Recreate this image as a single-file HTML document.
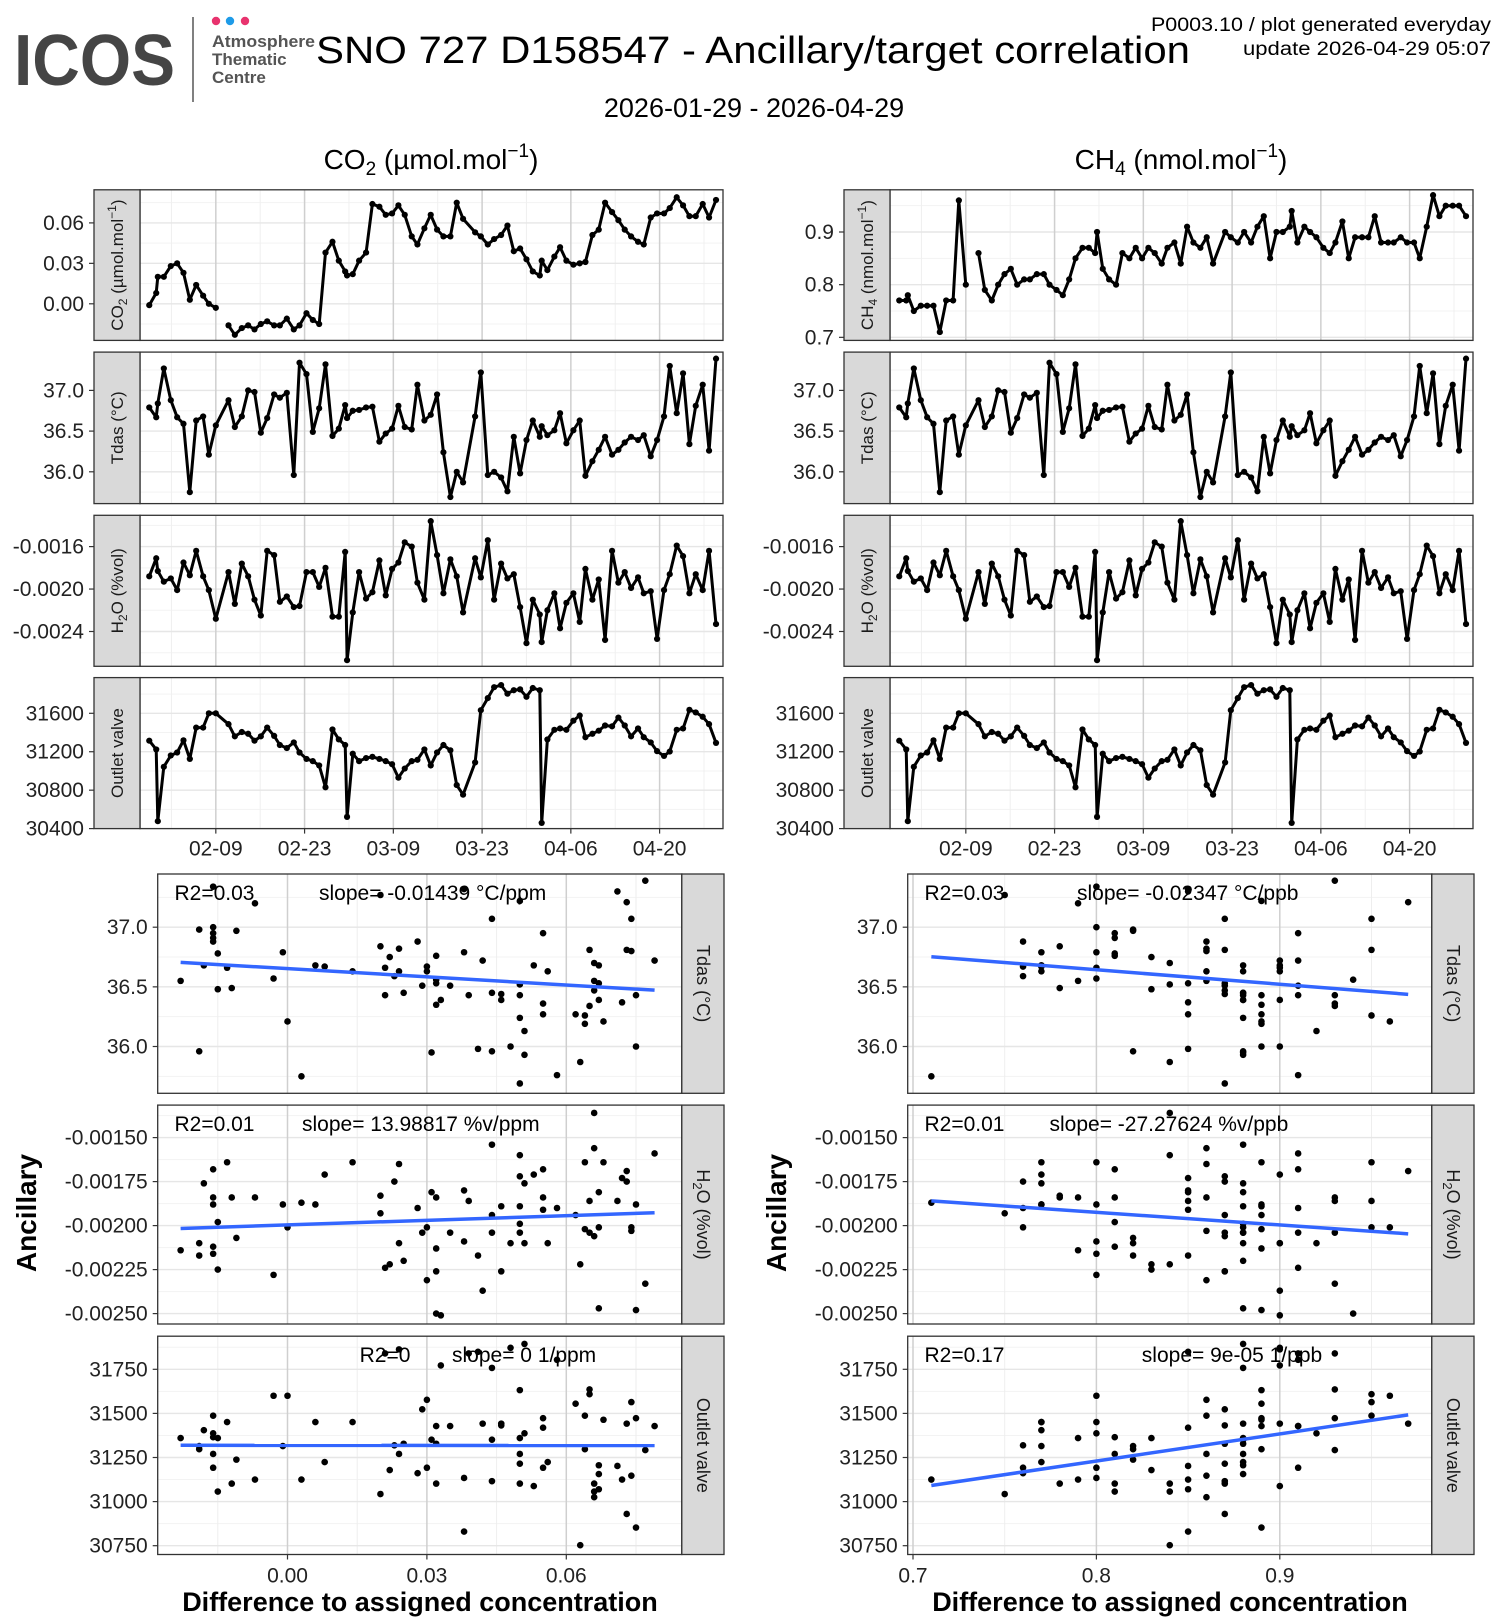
<!DOCTYPE html>
<html><head><meta charset="utf-8"><style>
html,body{margin:0;padding:0;background:#fff}
svg{display:block;font-family:"Liberation Sans",sans-serif}
</style></head><body>
<svg id="chart" width="1500" height="1620" viewBox="0 0 1500 1620" xmlns="http://www.w3.org/2000/svg">
<defs id="defs"></defs>
<g>
<text x="14" y="85" font-size="72" font-weight="bold" fill="#454545" textLength="161" lengthAdjust="spacingAndGlyphs">ICOS</text>
<line x1="193" y1="17" x2="193" y2="102" stroke="#555" stroke-width="1.5"/>
<circle cx="216" cy="21" r="4.2" fill="#e8336e"/>
<circle cx="230" cy="21" r="4.2" fill="#1e9be8"/>
<circle cx="245" cy="21" r="4.2" fill="#e8336e"/>
<text x="212" y="47" font-size="17" font-weight="bold" fill="#555" textLength="103" lengthAdjust="spacingAndGlyphs">Atmosphere</text>
<text x="212" y="65" font-size="17" font-weight="bold" fill="#555">Thematic</text>
<text x="212" y="83" font-size="17" font-weight="bold" fill="#555">Centre</text>
<text x="316" y="63" font-size="38" fill="#000" textLength="874" lengthAdjust="spacingAndGlyphs">SNO 727 D158547 - Ancillary/target correlation</text>
<text x="754" y="117" font-size="27" fill="#000" text-anchor="middle">2026-01-29 - 2026-04-29</text>
<text x="1491" y="31" font-size="19" fill="#000" text-anchor="end" textLength="340" lengthAdjust="spacingAndGlyphs">P0003.10 / plot generated everyday</text>
<text x="1491" y="55" font-size="19" fill="#000" text-anchor="end" textLength="248" lengthAdjust="spacingAndGlyphs">update  2026-04-29 05:07</text>
<text x="431" y="169" font-size="28" fill="#000" text-anchor="middle">CO<tspan font-size="19" dy="6">2</tspan><tspan dy="-6"> (µmol.mol</tspan><tspan font-size="19" dy="-12">−1</tspan><tspan dy="12">)</tspan></text>
<text x="1181" y="169" font-size="28" fill="#000" text-anchor="middle">CH<tspan font-size="19" dy="6">4</tspan><tspan dy="-6"> (nmol.mol</tspan><tspan font-size="19" dy="-12">−1</tspan><tspan dy="12">)</tspan></text>
<text transform="translate(36,1213) rotate(-90)" font-size="28" font-weight="bold" text-anchor="middle">Ancillary</text>
<text transform="translate(786,1213) rotate(-90)" font-size="28" font-weight="bold" text-anchor="middle">Ancillary</text>
<text x="420" y="1611" font-size="27" font-weight="bold" text-anchor="middle">Difference to assigned concentration</text>
<text x="1170" y="1611" font-size="27" font-weight="bold" text-anchor="middle">Difference to assigned concentration</text>
</g>
</svg>
<script>
const days = [0.5,1.6,1.85,2.8,3.9,4.9,5.9,6.9,7.9,9.0,9.9,11.0,12.0,13.0,14.0,15.1,16.1,17.1,18.1,19.1,20.2,21.1,22.2,23.3,24.2,25.3,26.3,27.3,28.3,29.4,30.4,31.4,31.7,32.6,33.6,34.7,35.7,36.8,37.8,38.8,39.8,40.8,41.9,42.8,43.9,44.9,45.9,46.9,48.0,49.0,50.0,51.9,52.8,53.9,54.9,56.0,57.0,58.0,59.0,60.0,61.0,62.1,62.4,63.3,64.4,65.3,66.3,67.4,68.4,69.3,70.4,71.4,72.4,73.5,74.5,75.5,76.5,77.6,78.5,79.6,80.6,81.7,82.6,83.7,84.7,85.7,86.7,87.8,88.8,89.9];
const co2 = [-0.001,0.008,0.02,0.02,0.028,0.03,0.023,0.003,0.014,0.006,0.0,-0.003,null,
-0.016,-0.023,-0.018,-0.016,-0.019,-0.015,-0.013,-0.016,-0.016,-0.011,
-0.019,-0.016,-0.007,-0.012,-0.015,0.038,0.046,0.032,0.024,0.021,
0.022,0.032,0.038,0.074,0.072,0.066,0.067,0.073,0.066,0.050,
0.044,0.056,0.066,0.055,0.050,0.050,0.075,0.063,0.053,0.050,
0.044,0.048,0.051,0.058,0.039,0.041,0.033,0.024,0.021,0.032,0.025,
0.035,0.042,0.032,0.029,0.03,0.031,0.051,0.055,0.075,0.068,
0.062,0.055,0.050,0.046,0.044,0.064,0.067,0.067,0.071,0.079,
0.073,0.065,0.065,0.074,0.064,0.077];
const ch4 = [0.77,0.77,0.78,0.75,0.76,0.76,0.76,0.71,0.77,0.77,0.96,0.80,null,
0.86,0.79,0.77,0.80,0.82,0.83,0.80,0.81,0.81,0.82,
0.82,0.80,0.79,0.78,0.81,0.85,0.87,0.87,0.86,0.90,
0.83,0.81,0.80,0.86,0.85,0.87,0.85,0.87,0.86,0.84,
0.87,0.88,0.84,0.91,0.88,0.87,0.89,0.84,0.90,0.89,
0.88,0.90,0.88,0.91,0.93,0.85,0.90,0.90,0.91,0.94,
0.88,0.91,0.90,0.89,0.87,0.86,0.88,0.92,0.85,0.89,
0.89,0.89,0.93,0.88,0.88,0.88,0.89,0.88,0.88,0.85,
0.91,0.97,0.93,0.95,0.95,0.95,0.93];
const tdas = [36.79,36.67,36.84,37.27,36.88,36.67,36.59,35.75,36.63,36.68,36.21,36.57,null,
36.88,36.55,36.68,37.0,36.98,36.48,36.66,36.95,36.91,36.97,
35.96,37.34,37.2,36.49,36.78,37.32,36.44,36.53,36.82,36.66,
36.75,36.76,36.79,36.8,36.37,36.47,36.53,36.81,36.55,36.52,
37.07,36.63,36.70,36.95,36.24,35.69,36.0,35.87,36.68,37.22,
35.96,36.0,35.93,35.76,36.43,35.98,36.39,36.63,36.43,36.56,
36.45,36.51,36.72,36.35,36.51,36.63,35.95,36.13,36.27,36.43,
36.21,36.27,36.36,36.43,36.39,36.45,36.19,36.39,36.68,37.3,
36.72,37.21,36.34,36.81,37.07,36.26,37.39];
const h2o = [-0.00188,-0.00171,-0.00183,-0.00193,-0.0019,-0.00201,-0.00175,-0.00187,-0.00164,-0.00188,-0.00201,-0.00228,null,
-0.00184,-0.00214,-0.00176,-0.00188,-0.0021,-0.00225,-0.00164,-0.00168,-0.00212,-0.00207,
-0.00217,-0.00216,-0.00184,-0.00184,-0.00198,-0.0018,-0.00226,-0.00226,-0.00165,-0.00267,
-0.00222,-0.00184,-0.00209,-0.00203,-0.00173,-0.00206,-0.00181,-0.00175,-0.00156,-0.0016,
-0.00194,-0.0021,-0.00136,-0.00168,-0.00204,-0.00172,-0.00188,-0.00222,-0.00171,-0.00189,
-0.00154,-0.0021,-0.00176,-0.0019,-0.00186,-0.00217,-0.00251,-0.0021,-0.00224,-0.0025,
-0.0022,-0.00204,-0.00237,-0.00213,-0.00204,-0.00231,-0.00181,-0.0021,-0.00191,-0.00248,
-0.00164,-0.00194,-0.00184,-0.00199,-0.00189,-0.00204,-0.00202,-0.00247,-0.00201,-0.00186,
-0.00159,-0.00169,-0.00204,-0.00186,-0.00201,-0.00164,-0.00233];
const outlet = [31315,31224,30477,31043,31161,31192,31319,31125,31451,31451,31600,31600,null,
31487,31360,31405,31387,31315,31360,31451,31365,31270,31238,
31297,31192,31125,31102,31057,30830,31432,31328,31270,30522,
31179,31102,31134,31147,31125,31102,31070,30930,31025,31102,
31116,31224,31057,31192,31270,31215,30853,30753,31088,31632,
31758,31872,31894,31804,31840,31849,31772,31863,31840,30459,
31328,31428,31442,31428,31523,31577,31351,31387,31419,31473,
31464,31555,31473,31360,31442,31351,31297,31206,31156,31202,
31428,31442,31636,31609,31564,31487,31292];
const dateTickDays = [11,25,39,53,67,81];
const dateTickLabels = ['02-09','02-23','03-09','03-23','04-06','04-20'];
const co2Ticks = [0.00,0.03,0.06];
const ch4Ticks = [0.7,0.8,0.9];
const tdasTicks = [36.0,36.5,37.0];
const h2oTsTicks = [-0.0024,-0.0020,-0.0016];
const outletTsTicks = [30400,30800,31200,31600];
const h2oScTicks = [-0.0025,-0.00225,-0.002,-0.00175,-0.0015];
const outletScTicks = [30750,31000,31250,31500,31750];
const co2XTicks = [0.00,0.03,0.06];
const ch4XTicks = [0.7,0.8,0.9];
const statsLeft = [["R2=0.03","slope= -0.01439 °C/ppm"],["R2=0.01","slope= 13.98817 %v/ppm"],["R2=0","slope= 0 1/ppm"]];
const statsRight = [["R2=0.03","slope= -0.02347 °C/ppb"],["R2=0.01","slope= -27.27624 %v/ppb"],["R2=0.17","slope= 9e-05 1/ppb"]];

const svg = document.getElementById('chart');
const defs = document.getElementById('defs');
const NS = 'http://www.w3.org/2000/svg';
function mk(tag, attrs, parent){const e=document.createElementNS(NS,tag);for(const k in attrs)e.setAttribute(k,attrs[k]);(parent||svg).appendChild(e);return e;}
function lin(d0,d1,r0,r1){return v=>r0+(v-d0)/(d1-d0)*(r1-r0);}
function fmt(v,dec){return (v<0?'-':'')+Math.abs(v).toFixed(dec);}
let clipN=0;
function clipFor(L,t,R,b){const id='clip'+(clipN++);const cp=mk('clipPath',{id:id},defs);mk('rect',{x:L,y:t,width:R-L,height:b-t},cp);return 'url(#'+id+')';}

const tsRows = [[189.8,340.4],[352.1,503.6],[515.3,666.3],[677.6,828.6]];
function tsPanel(ox, row, ys, ticks, dec, vals, label, breakNull, key){
  const [t,b]=tsRows[row]; const L=140+ox, R=723+ox;
  const xs = lin(-0.96,91.0,L,R);
  const g = mk('g',{});
  
  
  mk('rect',{x:L,y:t,width:R-L,height:b-t,fill:'#fff'},g);
  for(let i=0;i<ticks.length-1;i++){const m=(ticks[i]+ticks[i+1])/2;const y=ys(m);mk('line',{x1:L,x2:R,y1:y,y2:y,stroke:'#f3f3f3','stroke-width':1},g);}
  const st=ticks[1]-ticks[0];
  [ticks[0]-st/2, ticks[ticks.length-1]+st/2].forEach(m=>{const y=ys(m);if(y>t&&y<b)mk('line',{x1:L,x2:R,y1:y,y2:y,stroke:'#f3f3f3','stroke-width':1},g);});
  [4,18,32,46,60,74,88].forEach(d=>{const x=xs(d);mk('line',{x1:x,x2:x,y1:t,y2:b,stroke:'#f0f0f0','stroke-width':1},g);});
  ticks.forEach(v=>{const y=ys(v);if(y>=t-1&&y<=b+1)mk('line',{x1:L,x2:R,y1:y,y2:y,stroke:'#e6e6e6','stroke-width':1.4},g);});
  dateTickDays.forEach(d=>{const x=xs(d);mk('line',{x1:x,x2:x,y1:t,y2:b,stroke:'#cfcfcf','stroke-width':1.5},g);});
  let path='',pen=false;
  for(let i=0;i<days.length;i++){
    const v=vals[i];
    if(v===null){if(breakNull)pen=false;continue;}
    path+=(pen?'L':'M')+xs(days[i]).toFixed(1)+','+ys(v).toFixed(1);pen=true;
  }
  const ln=mk('path',{d:path,fill:'none',stroke:'#000','stroke-width':3,'stroke-linejoin':'round'},g);
  
  
  for(let i=0;i<days.length;i++){ if(vals[i]===null)continue;
    const c=mk('circle',{cx:xs(days[i]),cy:ys(vals[i]),r:3.1,fill:'#000'},g);
    
    
  }
  mk('rect',{x:L,y:t,width:R-L,height:b-t,fill:'none',stroke:'#333','stroke-width':1.3},g);
  mk('rect',{x:94+ox,y:t,width:46,height:b-t,fill:'#d9d9d9',stroke:'#333','stroke-width':1.3},g);
  const lt=mk('text',{transform:`translate(${123+ox},${(t+b)/2}) rotate(-90)`,'font-size':17,'text-anchor':'middle',fill:'#1a1a1a'},g);
  lt.innerHTML=label;
  
  
  ticks.forEach(v=>{const y=ys(v);if(y<t-1||y>b+1)return;
    mk('line',{x1:89+ox,x2:94+ox,y1:y,y2:y,stroke:'#333','stroke-width':1.2},g);
    const tx=mk('text',{x:84+ox,y:y+7,'font-size':21,'text-anchor':'end',fill:'#222'},g);
    tx.textContent=fmt(v,dec);
    
    
  });
  if(row===3){dateTickDays.forEach((d,k)=>{const x=xs(d);
    mk('line',{x1:x,x2:x,y1:b,y2:b+5,stroke:'#333','stroke-width':1.2},g);
    const tx=mk('text',{x:x,y:b+27,'font-size':21,'text-anchor':'middle',fill:'#222'},g);
    tx.textContent=dateTickLabels[k];
    
    
  });}
}
const sCO2='CO<tspan font-size="12" dy="4">2</tspan><tspan dy="-4"> (µmol.mol</tspan><tspan font-size="12" dy="-7">−1</tspan><tspan dy="7">)</tspan>';
const sCH4='CH<tspan font-size="12" dy="4">4</tspan><tspan dy="-4"> (nmol.mol</tspan><tspan font-size="12" dy="-7">−1</tspan><tspan dy="7">)</tspan>';
const sH2O='H<tspan font-size="12" dy="4">2</tspan><tspan dy="-4">O (%vol)</tspan>';
const yCO2 = v=>303.8 - v/0.03*40.45;
const yCH4 = v=>232 - (v-0.9)*526.7;
const yTd = v=>390.4 - (v-37)*81.4;
const yH = v=>546.6 - (v+0.0016)/0.0008*84.9;
const yO = v=>713.3 - (v-31600)/1200*115.3;
tsPanel(0,0,yCO2,co2Ticks,2,co2,sCO2,true,'co2');
tsPanel(750,0,yCH4,ch4Ticks,1,ch4,sCH4,true,'ch4');
[0,750].forEach((ox,k)=>{const s=k?'right':'left';
  tsPanel(ox,1,yTd,tdasTicks,1,tdas,'Tdas (°C)',false,'tdas-'+s);
  tsPanel(ox,2,yH,h2oTsTicks,4,h2o,sH2O,false,'h2o-'+s);
  tsPanel(ox,3,yO,outletTsTicks,0,outlet,'Outlet valve',false,'outlet-'+s);
});

const scRows=[[874,1093.3],[1105.1,1324],[1336.2,1554.5]];
function scatter(ox,row,xs,xTicks,xDec,xMinor,xv,ys,yTicks,yDec,yv,label,stats,key){
  const [t,b]=scRows[row]; const L=157.7+ox,R=681.8+ox;
  const g=mk('g',{});
  
  
  mk('rect',{x:L,y:t,width:R-L,height:b-t,fill:'#fff'},g);
  for(let i=0;i<yTicks.length-1;i++){const y=ys((yTicks[i]+yTicks[i+1])/2);mk('line',{x1:L,x2:R,y1:y,y2:y,stroke:'#f3f3f3'},g);}
  const st=yTicks[1]-yTicks[0];
  [yTicks[0]-st/2,yTicks[yTicks.length-1]+st/2].forEach(m=>{const y=ys(m);if(y>t&&y<b)mk('line',{x1:L,x2:R,y1:y,y2:y,stroke:'#f3f3f3'},g);});
  xMinor.forEach(v=>{const x=xs(v);if(x>L&&x<R)mk('line',{x1:x,x2:x,y1:t,y2:b,stroke:'#eeeeee'},g);});
  yTicks.forEach(v=>{const y=ys(v);mk('line',{x1:L,x2:R,y1:y,y2:y,stroke:'#e6e6e6','stroke-width':1.4},g);});
  xTicks.forEach(v=>{const x=xs(v);mk('line',{x1:x,x2:x,y1:t,y2:b,stroke:'#cfcfcf','stroke-width':1.5},g);});
  const inner=mk('g',{'clip-path':clipFor(L,t,R,b)},g);
  const px=[],py=[];
  for(let i=0;i<xv.length;i++){ if(xv[i]===null||yv[i]===null)continue; px.push(xv[i]);py.push(yv[i]);
    const c=mk('circle',{cx:xs(xv[i]),cy:ys(yv[i]),r:3.3,fill:'#000'},inner);
    
    
  }
  const n=px.length,mx=px.reduce((a,c)=>a+c,0)/n,my=py.reduce((a,c)=>a+c,0)/n;
  let sxy=0,sxx=0;for(let i=0;i<n;i++){sxy+=(px[i]-mx)*(py[i]-my);sxx+=(px[i]-mx)**2;}
  const sl=sxy/sxx,x0=Math.min(...px),x1=Math.max(...px);
  const fl=mk('line',{x1:xs(x0),y1:ys(my+sl*(x0-mx)),x2:xs(x1),y2:ys(my+sl*(x1-mx)),stroke:'#3366ff','stroke-width':3.5},inner);
  
  
  mk('rect',{x:L,y:t,width:R-L,height:b-t,fill:'none',stroke:'#333','stroke-width':1.3},g);
  mk('rect',{x:R,y:t,width:42.2,height:b-t,fill:'#d9d9d9',stroke:'#333','stroke-width':1.3},g);
  const lt=mk('text',{transform:`translate(${R+15},${(t+b)/2}) rotate(90)`,'font-size':18,'text-anchor':'middle',fill:'#1a1a1a'},g);
  lt.innerHTML=label;
  
  
  yTicks.forEach(v=>{const y=ys(v);
    mk('line',{x1:L-5,x2:L,y1:y,y2:y,stroke:'#333','stroke-width':1.2},g);
    const tx=mk('text',{x:L-10,y:y+7,'font-size':21,'text-anchor':'end',fill:'#222'},g);
    tx.textContent=fmt(v,yDec);
    
    
  });
  if(row===2){xTicks.forEach(v=>{const x=xs(v);
    mk('line',{x1:x,x2:x,y1:b,y2:b+5,stroke:'#333','stroke-width':1.2},g);
    const tx=mk('text',{x:x,y:b+28,'font-size':21,'text-anchor':'middle',fill:'#222'},g);
    tx.textContent=fmt(v,xDec);
    
    
  });}
  const ty=t+26;
  const r2=mk('text',{x:stats.r2x,y:ty,'font-size':21,fill:'#000'},g);
  r2.textContent=stats.r2;
  
  
  const sp=mk('text',{x:stats.sx,y:ty,'font-size':21,fill:'#000'},g);
  sp.textContent=stats.slope;
  
  
}
const xCO2=v=>287.5+v/0.03*139.4;
const xCH4=v=>913+(v-0.7)*1834;
const ySTd=v=>927.2-(v-37)*119.3;
const ySH=v=>1137.6-(v+0.0015)/0.001*176;
const ySO=v=>1369.3-(v-31750)/1000*176.4;
const sH2Or='H<tspan font-size="13" dy="4">2</tspan><tspan dy="-4">O (%vol)</tspan>';
const lp=[[174.5,319],[174.5,302],[359.6,452]], rp=[[924.5,1077],[924.5,1049.5],[924.5,1141.8]];
const ys3=[[ySTd,tdasTicks,1,tdas,'Tdas (°C)','tdas'],[ySH,h2oScTicks,5,h2o,sH2Or,'h2o'],[ySO,outletScTicks,0,outlet,'Outlet valve','outlet']];
ys3.forEach((c,k)=>{
  scatter(0,k,xCO2,co2XTicks,2,[-0.015,0.015,0.045,0.075],co2,c[0],c[1],c[2],c[3],c[4],{r2:statsLeft[k][0],slope:statsLeft[k][1],r2x:lp[k][0],sx:lp[k][1]},'co2-'+c[5]);
  scatter(750,k,xCH4,ch4XTicks,1,[0.75,0.85,0.95],ch4,c[0],c[1],c[2],c[3],c[4],{r2:statsRight[k][0],slope:statsRight[k][1],r2x:rp[k][0],sx:rp[k][1]},'ch4-'+c[5]);
});
</script>
</body></html>
